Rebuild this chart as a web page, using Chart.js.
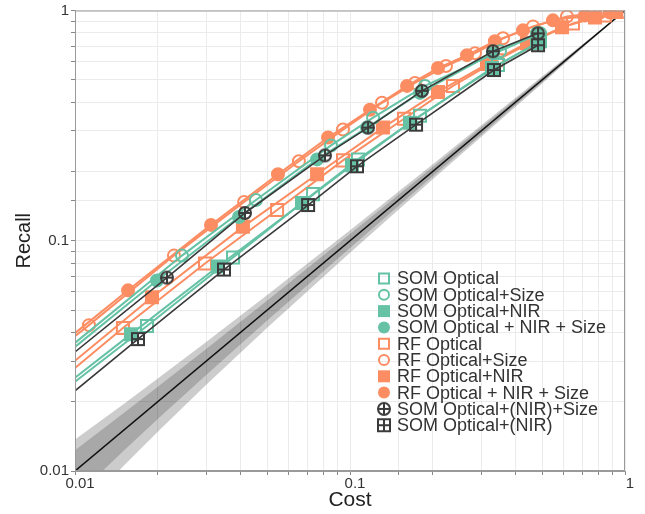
<!DOCTYPE html>
<html>
<head>
<meta charset="utf-8">
<script src="https://cdn.jsdelivr.net/npm/chart.js@4.4.1/dist/chart.umd.min.js"></script>
<style>
  html, body { margin: 0; padding: 0; background: #fff; }
  #wrap { width: 645px; height: 514px; }
</style>
</head>
<body>
<div id="wrap"><canvas id="chart" width="645" height="514"></canvas></div>
<script>
// values (cost on x, recall on y, both log)
const seriesNames = ['SOM Optical', 'SOM Optical+Size', 'SOM Optical+NIR', 'SOM Optical + NIR + Size',
    'RF Optical', 'RF Optical+Size', 'RF Optical+NIR', 'RF Optical + NIR + Size',
    'SOM Optical+(NIR)+Size', 'SOM Optical+(NIR)'];

const somOpticalCost = [0.01, 0.01827, 0.03754, 0.0734, 0.1069, 0.1797, 0.3453, 0.4909];
const somOpticalRecall = [0.0244, 0.0426, 0.0845, 0.1594, 0.2256, 0.3492, 0.5793, 0.7353];

const somOpticalSizeCost = [0.01, 0.02449, 0.0455, 0.0853, 0.1213, 0.1874, 0.3511, 0.4909];
const somOpticalSizeRecall = [0.036, 0.0862, 0.1502, 0.2594, 0.3423, 0.4704, 0.6657, 0.796];

const somOpticalNirCost = [0.01, 0.01598, 0.0331, 0.0669, 0.1017, 0.1653, 0.3284, 0.4786];
const somOpticalNirRecall = [0.0254, 0.0393, 0.0773, 0.1458, 0.2127, 0.3258, 0.5623, 0.7206];

const somAllCost = [0.01, 0.01987, 0.03948, 0.0759, 0.1153, 0.1797, 0.3311, 0.4786];
const somAllRecall = [0.0346, 0.0672, 0.1269, 0.2256, 0.31, 0.4387, 0.6527, 0.796];

const rfOpticalCost = [0.01, 0.01494, 0.0297, 0.0543, 0.0943, 0.1572, 0.2368, 0.3424, 0.4786, 0.647, 0.845, 0.97];
const rfOpticalRecall = [0.028, 0.0418, 0.0796, 0.136, 0.2234, 0.3389, 0.4704, 0.6087, 0.75, 0.879, 0.9515, 0.99];

const rfOpticalSizeCost = [0.01, 0.01124, 0.0229, 0.0412, 0.0652, 0.0943, 0.1307, 0.1723, 0.2234, 0.2848, 0.3601, 0.4629, 0.6152, 0.811];
const rfOpticalSizeRecall = [0.0385, 0.043, 0.0862, 0.1473, 0.2213, 0.304, 0.3974, 0.4846, 0.5737, 0.6527, 0.7572, 0.853, 0.942, 0.98];

const rfOpticalNirCost = [0.01, 0.01905, 0.0408, 0.0759, 0.1318, 0.2089, 0.3149, 0.44, 0.5902, 0.778, 0.93];
const rfOpticalNirRecall = [0.0301, 0.0568, 0.1149, 0.1944, 0.31, 0.4431, 0.5851, 0.7206, 0.845, 0.933, 0.985];

const rfAllCost = [0.01, 0.01559, 0.03123, 0.0547, 0.0832, 0.1182, 0.1612, 0.2089, 0.2664, 0.3365, 0.4256, 0.547, 0.715, 0.882];
const rfAllRecall = [0.0397, 0.0609, 0.1172, 0.1944, 0.2807, 0.3707, 0.4704, 0.5623, 0.6397, 0.7353, 0.82, 0.906, 0.9515, 0.98];

const somNirSizeCost = [0.01, 0.0216, 0.0415, 0.0811, 0.1163, 0.1827, 0.3311, 0.4827];
const somNirSizeRecall = [0.0329, 0.0692, 0.132, 0.2348, 0.31, 0.4477, 0.6657, 0.796];

const somNirCost = [0.01, 0.01694, 0.03481, 0.0704, 0.106, 0.1738, 0.3339, 0.4827];
const somNirRecall = [0.0223, 0.0374, 0.075, 0.1429, 0.2106, 0.3193, 0.5513, 0.7065];

// random-selection diagonal and its two grey bands
const diagCost = [0.01, 1];
const diagRecall = [0.01, 1];
const bandCost = [0.01, 0.015, 0.02, 0.03, 0.05, 0.1, 0.2, 0.5, 1];
const lightUpper = [0.0137, 0.0195, 0.0252, 0.0363, 0.0581, 0.1112, 0.2149, 0.5186, 1];
const darkUpper = [0.0123, 0.0178, 0.0232, 0.0339, 0.0550, 0.1069, 0.2092, 0.5116, 1];
const darkLower = [0.0077, 0.0122, 0.0168, 0.0261, 0.0450, 0.0931, 0.1908, 0.4884, 1];
const lightLower = [0.0063, 0.0105, 0.0148, 0.0237, 0.0419, 0.0888, 0.1851, 0.4814, 1];

const tickValues = [0.01, 0.1, 1];
const tickLabels = ['0.01', '0.1', '1'];

const TEAL = '#66c2a5';
const ORANGE = '#fc8d62';
const DARK = '#3a3a3a';
const FONT = '"Liberation Sans", Arial, sans-serif';

Chart.defaults.font.family = FONT;

function pts(xs, ys) {
    return xs.map((x, i) => ({ x: x, y: ys[i] }));
}

function makeCircleCross(color) {
    const c = document.createElement('canvas');
    c.width = 16; c.height = 16;
    const g = c.getContext('2d');
    g.strokeStyle = color;
    g.lineWidth = 2;
    g.beginPath(); g.arc(8, 8, 6, 0, Math.PI * 2); g.stroke();
    g.beginPath(); g.moveTo(2, 8); g.lineTo(14, 8); g.moveTo(8, 2); g.lineTo(8, 14); g.stroke();
    return c;
}

function makeSquareCross(color) {
    const c = document.createElement('canvas');
    c.width = 16; c.height = 16;
    const g = c.getContext('2d');
    g.strokeStyle = color;
    g.lineWidth = 2;
    g.strokeRect(2, 2, 12, 12);
    g.beginPath(); g.moveTo(2, 8); g.lineTo(14, 8); g.moveTo(8, 2); g.lineTo(8, 14); g.stroke();
    return c;
}

const circleCross = makeCircleCross(DARK);
const squareCross = makeSquareCross(DARK);

function series(i, xs, ys, color, style, filled, order, lw) {
    const r = style === 'rect' ? 8.5 : 6;
    return {
        label: seriesNames[i],
        data: pts(xs, ys),
        showLine: true,
        borderColor: color,
        borderWidth: lw || 2,
        tension: 0,
        pointStyle: style,
        pointRadius: (ctx) => ctx.dataIndex === 0 ? 0 : r,
        pointHoverRadius: (ctx) => ctx.dataIndex === 0 ? 0 : r,
        pointBorderColor: color,
        pointBackgroundColor: filled ? color : 'rgba(255,255,255,0)',
        pointBorderWidth: 2,
        order: order,
        _filled: filled
    };
}

function band(xs, ys, fill, color, order) {
    return {
        label: '',
        data: pts(xs, ys),
        showLine: true,
        borderColor: 'rgba(0,0,0,0)',
        borderWidth: 0,
        pointRadius: 0,
        pointHoverRadius: 0,
        fill: fill,
        backgroundColor: color,
        order: order
    };
}

const datasets = [
    series(0, somOpticalCost, somOpticalRecall, TEAL, 'rect', false, 2),
    series(1, somOpticalSizeCost, somOpticalSizeRecall, TEAL, 'circle', false, 2),
    series(2, somOpticalNirCost, somOpticalNirRecall, TEAL, 'rect', true, 2),
    series(3, somAllCost, somAllRecall, TEAL, 'circle', true, 2),
    series(4, rfOpticalCost, rfOpticalRecall, ORANGE, 'rect', false, 3),
    series(5, rfOpticalSizeCost, rfOpticalSizeRecall, ORANGE, 'circle', false, 3),
    series(6, rfOpticalNirCost, rfOpticalNirRecall, ORANGE, 'rect', true, 3),
    series(7, rfAllCost, rfAllRecall, ORANGE, 'circle', true, 3),
    series(8, somNirSizeCost, somNirSizeRecall, DARK, circleCross, false, 1, 1.6),
    series(9, somNirCost, somNirRecall, DARK, squareCross, false, 1, 1.6),
    {
        label: '',
        data: pts(diagCost, diagRecall),
        showLine: true,
        borderColor: '#111',
        borderWidth: 1.5,
        pointRadius: 0,
        pointHoverRadius: 0,
        order: 4
    },
    band(bandCost, darkUpper, '+1', 'rgba(0,0,0,0.18)', 5),
    band(bandCost, darkLower, false, 'rgba(0,0,0,0)', 5),
    band(bandCost, lightUpper, '+1', 'rgba(0,0,0,0.2)', 6),
    band(bandCost, lightLower, false, 'rgba(0,0,0,0)', 6)
];

function drawMarker(ctx, ds, x, y) {
    const style = ds.pointStyle;
    ctx.save();
    if (typeof style === 'object') {
        ctx.drawImage(style, x - style.width / 2, y - style.height / 2);
    } else {
        ctx.lineWidth = 2;
        ctx.strokeStyle = ds.borderColor;
        ctx.fillStyle = ds.borderColor;
        ctx.beginPath();
        if (style === 'circle') {
            ctx.arc(x, y, ds._filled ? 6 : 5, 0, Math.PI * 2);
        } else {
            const h = ds._filled ? 6 : 5;
            ctx.rect(x - h, y - h, 2 * h, 2 * h);
        }
        if (ds._filled) ctx.fill(); else ctx.stroke();
    }
    ctx.restore();
}

const frameAndLegend = {
    id: 'frameAndLegend',
    afterDraw(chart) {
        const { ctx, chartArea } = chart;
        ctx.save();
        ctx.strokeStyle = '#9a9a9a';
        ctx.lineWidth = 1;
        ctx.strokeRect(chartArea.left + 0.5, chartArea.top + 0.5,
            chartArea.right - chartArea.left - 1, chartArea.bottom - chartArea.top - 1);

        const lx = chartArea.left + 309;
        const ly = chartArea.top + 268;
        const step = 16.3;
        ctx.font = '18px ' + FONT;
        ctx.textBaseline = 'middle';
        ctx.textAlign = 'left';
        for (let i = 0; i < seriesNames.length; i++) {
            const y = ly + i * step;
            drawMarker(ctx, chart.data.datasets[i], lx, y);
            ctx.fillStyle = '#333';
            ctx.fillText(seriesNames[i], lx + 13, y + 1);
        }
        ctx.restore();
    }
};

function tickText(value) {
    const idx = tickValues.findIndex(v => Math.abs(v - value) < 1e-9);
    return idx >= 0 ? tickLabels[idx] : '';
}

new Chart(document.getElementById('chart'), {
    type: 'scatter',
    data: { datasets: datasets },
    options: {
        responsive: false,
        animation: false,
        devicePixelRatio: 1,
        layout: { padding: { top: 7, right: 20, left: 0, bottom: 0 } },
        plugins: {
            legend: { display: false },
            tooltip: { enabled: false }
        },
        scales: {
            x: {
                type: 'logarithmic',
                min: 0.01,
                max: 1,
                title: { display: true, text: 'Cost', color: '#222', font: { size: 21 }, padding: { top: 0, bottom: 1 } },
                ticks: { callback: tickText, autoSkip: false, maxRotation: 0, color: '#333', font: { size: 15 }, padding: 0, labelOffset: 5 },
                grid: { color: '#ebebeb', tickColor: '#888', tickLength: 4 },
                border: { display: true, color: '#9a9a9a' },
                afterFit(scale) {
                    scale.height = 43;
                    scale.paddingLeft = 0;
                    scale.paddingRight = 0;
                }
            },
            y: {
                type: 'logarithmic',
                min: 0.01,
                max: 1,
                title: { display: true, text: 'Recall', color: '#222', font: { size: 20 }, padding: { top: 12, bottom: 0 } },
                ticks: { callback: tickText, autoSkip: false, color: '#333', font: { size: 15 }, padding: 2 },
                grid: { color: '#ebebeb', tickColor: '#888', tickLength: 4 },
                border: { display: true, color: '#9a9a9a' },
                afterFit(scale) {
                    scale.width = 75;
                    scale.paddingTop = 0;
                    scale.paddingBottom = 0;
                }
            }
        }
    },
    plugins: [frameAndLegend]
});
</script>
</body>
</html>
